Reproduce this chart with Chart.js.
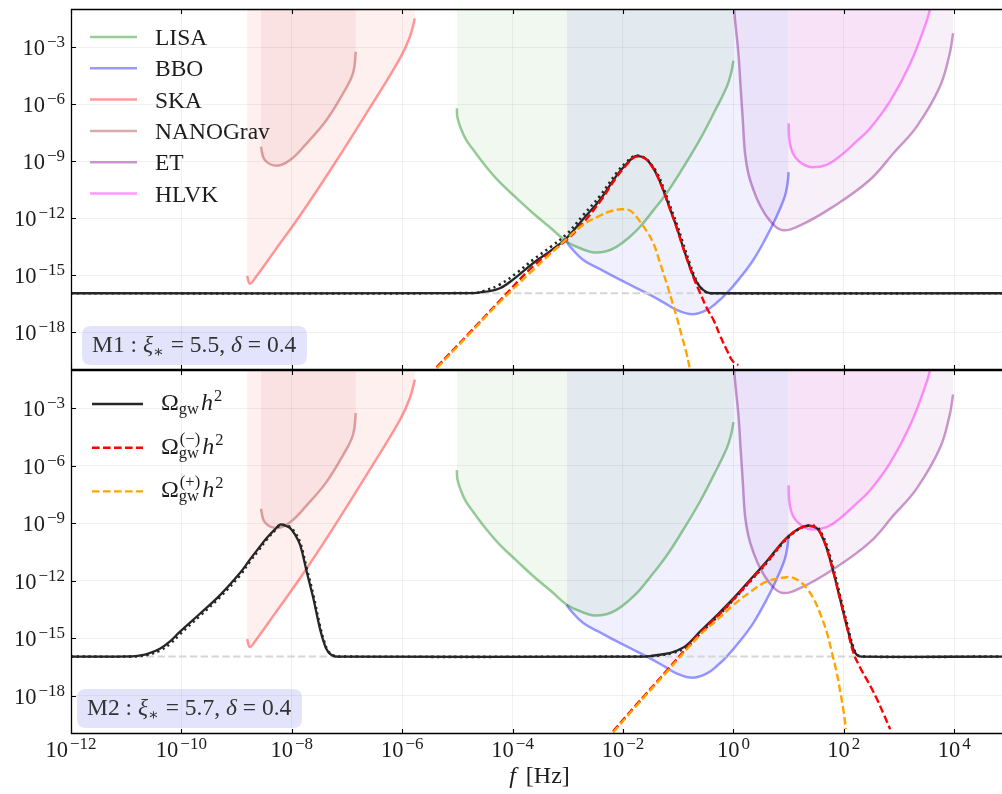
<!DOCTYPE html>
<html>
<head>
<meta charset="utf-8">
<title>GW spectra vs detector sensitivities</title>
<script src="https://cdn.jsdelivr.net/npm/chart.js@4.4.1/dist/chart.umd.min.js"></script>
<style>
  html, body { margin: 0; padding: 0; background: #fff; }
  #wrap { position: relative; width: 1002px; height: 794px; overflow: hidden; }
  #topPanel, #bottomPanel { position: absolute; left: 0; }
  #topPanel { top: 0; }
  #bottomPanel { top: 370px; }
</style>
</head>
<body>
<div id="wrap">
  <canvas id="topPanel" width="1002" height="372"></canvas>
  <canvas id="bottomPanel" width="1002" height="424"></canvas>
</div>
<script>
// ---- axes (powers of ten) ----
const xTickPowers = [-12, -10, -8, -6, -4, -2, 0, 2, 4];
const yTickPowers = [-18, -15, -12, -9, -6, -3];
const fRange = [-12, 4.866];
const omegaRange = [-20, -1];

// ---- detector sensitivity curves (log10 f [Hz], log10 Omega h^2) ----
const detectorNames = ['LISA', 'BBO', 'SKA', 'NANOGrav', 'ET', 'HLVK'];

const lisaLogF = [-5.01, -5.0, -4.95, -4.85, -4.71, -4.48, -4.23, -3.93, -3.63, -3.3, -3.02, -2.75, -2.54, -2.3, -2.11, -1.9, -1.69, -1.45, -1.21, -0.9, -0.61, -0.35, -0.12, -0.04, 0.0];
const lisaLogO = [-6.23, -6.7, -7.19, -7.85, -8.42, -9.3, -10.13, -10.95, -11.75, -12.55, -13.25, -13.62, -13.81, -13.75, -13.51, -13.05, -12.46, -11.6, -10.7, -9.3, -7.89, -6.45, -5.09, -4.35, -3.72];

const bboLogF = [-3.02, -2.96, -2.72, -2.4, -2.11, -1.8, -1.51, -1.25, -1.03, -0.74, -0.48, -0.3, -0.12, 0.12, 0.36, 0.58, 0.78, 0.93, 0.98, 1.0];
const bboLogO = [-13.25, -13.51, -14.21, -14.72, -15.17, -15.62, -16.05, -16.47, -16.84, -17.07, -16.84, -16.45, -15.96, -15.15, -14.21, -13.1, -11.93, -10.88, -10.2, -9.59];

const skaLogF = [-8.81, -8.76, -8.65, -8.3, -7.85, -7.25, -6.64, -6.04, -5.86, -5.77];
const skaLogO = [-15.05, -15.46, -15.1, -13.69, -11.87, -9.25, -6.45, -3.6, -2.46, -1.5];

const nanoLogF = [-8.56, -8.49, -8.27, -8.03, -7.73, -7.37, -7.07, -6.89, -6.84];
const nanoLogO = [-8.25, -8.95, -9.25, -8.95, -8.07, -6.84, -5.44, -4.38, -3.25];

const etLogF = [0.0, 0.03, 0.09, 0.13, 0.17, 0.21, 0.27, 0.36, 0.48, 0.65, 0.875, 1.2, 1.81, 2.47, 2.9, 3.32, 3.74, 3.92, 3.98];
const etLogO = [-0.5, -1.58, -3.33, -5.09, -6.84, -8.59, -9.65, -10.5, -11.32, -12.1, -12.63, -12.4, -11.4, -10.0, -8.59, -7.19, -5.09, -3.33, -2.28];

const hlvkLogF = [1.0, 1.01, 1.05, 1.12, 1.25, 1.42, 1.69, 1.93, 2.2, 2.47, 2.84, 3.2, 3.5, 3.58];
const hlvkLogO = [-7.02, -7.8, -8.4, -8.8, -9.15, -9.33, -9.2, -8.75, -8.05, -7.3, -5.85, -3.9, -1.65, -0.8];

// ---- flat background level (grey dashed) ----
const baseLogF = [-12, 4.866];
const baseLogO = [-15.96, -15.96];

// ---- model M1 (top panel) ----
const topTotLogF = [-12, -4.7, -4.5, -4.23, -3.93, -3.63, -3.3, -3.02, -2.72, -2.42, -2.11, -1.95, -1.81, -1.72, -1.6, -1.51, -1.39, -1.27, -1.15, -1.03, -0.91, -0.79, -0.7, -0.61, -0.5, -0.4, 4.866];
const topTotLogO = [-15.96, -15.95, -15.88, -15.7, -15.1, -14.38, -13.7, -13.05, -12.05, -11.05, -9.74, -9.2, -8.8, -8.74, -8.85, -9.12, -9.7, -10.53, -11.5, -12.46, -13.55, -14.56, -15.2, -15.6, -15.88, -15.96, -15.96];
const topDotLogO = [-15.96, -15.95, -15.82, -15.5, -14.9, -14.2, -13.5, -12.85, -11.85, -10.85, -9.6, -9.1, -8.75, -8.72, -8.85, -9.1, -9.6, -10.4, -11.35, -12.3, -13.35, -14.4, -15.1, -15.6, -15.9, -15.96, -15.96];

const topMinusLogF = [-5.375, -4.8, -4.23, -3.63, -3.02, -2.72, -2.42, -2.11, -1.95, -1.81, -1.72, -1.6, -1.51, -1.39, -1.27, -1.15, -1.03, -0.91, -0.79, -0.7, -0.61, -0.48, -0.36, -0.24, -0.12, -0.03, 0.03, 0.09];
const topMinusLogO = [-19.85, -18.1, -16.35, -14.55, -13.15, -12.25, -11.15, -9.82, -9.25, -8.83, -8.76, -8.87, -9.14, -9.72, -10.55, -11.52, -12.5, -13.58, -14.6, -15.3, -15.9, -16.75, -17.37, -18.2, -18.95, -19.47, -19.65, -19.74];

const topPlusLogF = [-5.375, -4.8, -4.23, -3.63, -3.02, -2.72, -2.42, -2.2, -2.0, -1.85, -1.69, -1.57, -1.45, -1.33, -1.21, -1.12, -1.03, -0.94, -0.85, -0.79];
const topPlusLogO = [-19.91, -18.16, -16.42, -14.74, -13.1, -12.35, -11.88, -11.62, -11.54, -11.65, -12.19, -12.7, -13.33, -14.35, -15.44, -16.3, -17.19, -18.15, -19.12, -19.91];

// ---- model M2 (bottom panel) ----
const botTotLogF = [-12, -10.9, -10.75, -10.6, -10.39, -10.2, -10.03, -9.66, -9.3, -8.94, -8.76, -8.6, -8.455, -8.3, -8.21, -8.12, -8.03, -7.94, -7.85, -7.73, -7.61, -7.49, -7.41, -7.34, -7.25, -7.15, -1.7, -1.51, -1.3, -1.09, -0.85, -0.61, -0.3, 0.0, 0.3, 0.6, 0.9, 1.05, 1.21, 1.36, 1.51, 1.6, 1.69, 1.81, 1.93, 2.05, 2.17, 2.24, 2.32, 4.866];
const botTotLogO = [-15.96, -15.95, -15.9, -15.8, -15.55, -15.15, -14.67, -13.71, -12.75, -11.6, -10.9, -10.3, -9.77, -9.3, -9.07, -9.12, -9.25, -9.6, -10.12, -11.53, -12.92, -14.5, -15.3, -15.72, -15.92, -15.96, -15.96, -15.93, -15.85, -15.72, -15.37, -14.67, -13.8, -12.92, -11.96, -11.0, -9.95, -9.55, -9.25, -9.13, -9.25, -9.65, -10.3, -11.53, -12.92, -14.32, -15.55, -15.88, -15.96, -15.96];
const botDotLogO = [-15.96, -15.96, -15.93, -15.86, -15.65, -15.28, -14.8, -13.82, -12.85, -11.72, -11.0, -10.4, -9.85, -9.35, -9.1, -9.1, -9.2, -9.5, -10.0, -11.35, -12.75, -14.35, -15.2, -15.68, -15.9, -15.96, -15.96, -15.94, -15.88, -15.76, -15.45, -14.78, -13.9, -13.0, -12.05, -11.08, -10.02, -9.6, -9.27, -9.12, -9.2, -9.55, -10.15, -11.35, -12.75, -14.15, -15.45, -15.85, -15.96, -15.96];

const botMinusLogF = [-2.18, -1.81, -1.21, -0.61, -0.3, 0.0, 0.3, 0.6, 0.9, 1.05, 1.21, 1.36, 1.51, 1.6, 1.69, 1.81, 1.93, 2.05, 2.17, 2.29, 2.41, 2.5, 2.6, 2.72, 2.84];
const botMinusLogO = [-19.86, -18.64, -16.7, -14.75, -13.88, -12.98, -12.02, -11.05, -9.98, -9.56, -9.25, -9.13, -9.25, -9.65, -10.3, -11.53, -12.92, -14.32, -15.72, -16.5, -17.12, -17.6, -18.17, -18.95, -19.75];

const botPlusLogF = [-2.18, -1.81, -1.21, -0.61, -0.3, 0.0, 0.3, 0.6, 0.9, 1.05, 1.21, 1.33, 1.45, 1.57, 1.69, 1.78, 1.87, 1.93, 1.99, 2.04];
const botPlusLogO = [-19.92, -18.7, -16.77, -14.85, -14.05, -13.27, -12.6, -12.05, -11.84, -11.82, -12.05, -12.4, -12.92, -13.7, -14.67, -15.7, -16.77, -17.7, -18.7, -19.75];

// ---- panel annotations ----
const modelNames = ['M1', 'M2'];
const xiValues = ['5.5', '5.7'];
const deltaValues = ['0.4', '0.4'];
const omegaSupers = ['', '(\u2212)', '(+)'];

// ------------------------------------------------------------------
const SERIF = '"Liberation Serif", "DejaVu Serif", serif';
const TEXT = '#1c1c1c';
const BLACK = '#262626';
const font = (size, italic) => (italic ? 'italic ' : '') + size + 'px ' + SERIF;
const toPoints = (lf, lo) => lf.map((v, i) => ({ x: Math.pow(10, v), y: Math.pow(10, lo[i]) }));

// detector line / fill colours (rgb of the matplotlib named colours)
const detectorRGB = ['0,128,0', '0,0,255', '255,0,0', '165,42,42', '128,0,128', '255,0,255'];
const detectorCurves = [
  [lisaLogF, lisaLogO], [bboLogF, bboLogO], [skaLogF, skaLogO],
  [nanoLogF, nanoLogO], [etLogF, etLogO], [hlvkLogF, hlvkLogO]
];

function detectorDatasets() {
  return detectorCurves.map((c, i) => ({
    label: detectorNames[i],
    data: toPoints(c[0], c[1]),
    borderColor: 'rgba(' + detectorRGB[i] + ',0.4)',
    backgroundColor: 'rgba(' + detectorRGB[i] + ',' + (i === 3 ? 0.07 : 0.06) + ')',
    borderWidth: 2.5,
    fill: 'end',
    order: 20 + i
  }));
}

function spectrumDatasets(tot, dot, minus, plus) {
  return [
    { label: '\u03A9gw h2', data: toPoints(tot[0], tot[1]), borderColor: BLACK, borderWidth: 2.3, order: 4 },
    { label: 'dotted', data: toPoints(tot[0], dot), borderColor: BLACK, borderWidth: 2.6, borderDash: [2.2, 3.6], order: 3 },
    { label: '\u03A9gw(\u2212) h2', data: toPoints(minus[0], minus[1]), borderColor: '#ff0000', borderWidth: 2.4, borderDash: [7.6, 3.4], order: 2 },
    { label: '\u03A9gw(+) h2', data: toPoints(plus[0], plus[1]), borderColor: '#ffa500', borderWidth: 2.4, borderDash: [7.6, 3.4], order: 1 },
    { label: 'background', data: toPoints(baseLogF, baseLogO), borderColor: '#d6d6d6', borderWidth: 2, borderDash: [7.4, 3.4], order: 5 }
  ];
}

// draws a sequence of text pieces, returns end x
function drawRun(ctx, x, y, pieces) {
  pieces.forEach(p => {
    ctx.font = font(p.size, p.italic);
    ctx.fillText(p.text, x, y + (p.dy || 0));
    x += ctx.measureText(p.text).width + (p.gap || 0);
  });
  return x;
}

function drawPower(ctx, p, x, y, align) {
  const exp = (p < 0 ? '\u2212' : '') + Math.abs(p);
  ctx.font = font(22.5); const wb = ctx.measureText('10').width;
  ctx.font = font(17); const we = ctx.measureText(exp).width;
  const total = wb + 2 + we;
  const x0 = align === 'right' ? x - total : x - total / 2;
  ctx.font = font(22.5); ctx.fillText('10', x0, y);
  ctx.font = font(17); ctx.fillText(exp, x0 + wb + 2, y - 8);
}

function drawOmega(ctx, x, y, sup) {
  ctx.font = font(24); ctx.fillText('\u03A9', x, y);
  x += ctx.measureText('\u03A9').width;
  ctx.font = font(16.5); const wg = ctx.measureText('gw').width;
  ctx.fillText('gw', x, y + 4);
  let w = wg;
  if (sup) { ctx.fillText(sup, x + 1, y - 10); w = Math.max(wg, ctx.measureText(sup).width + 1); }
  x += w + 2;
  ctx.font = font(24, true); ctx.fillText('h', x, y);
  x += ctx.measureText('h').width + 1;
  ctx.font = font(16.5); ctx.fillText('2', x, y - 9);
}

function roundBox(ctx, x, y, w, h, r) {
  ctx.beginPath();
  ctx.moveTo(x + r, y); ctx.lineTo(x + w - r, y); ctx.quadraticCurveTo(x + w, y, x + w, y + r);
  ctx.lineTo(x + w, y + h - r); ctx.quadraticCurveTo(x + w, y + h, x + w - r, y + h);
  ctx.lineTo(x + r, y + h); ctx.quadraticCurveTo(x, y + h, x, y + h - r);
  ctx.lineTo(x, y + r); ctx.quadraticCurveTo(x, y, x + r, y);
  ctx.closePath();
}

const panelDecor = {
  id: 'panelDecor',
  afterDraw(chart, args, o) {
    const ctx = chart.ctx, a = chart.chartArea, xs = chart.scales.x, ys = chart.scales.y;
    ctx.save();
    // frame
    ctx.strokeStyle = '#000'; ctx.lineWidth = 1.3;
    ctx.beginPath();
    ctx.moveTo(a.right + 2, a.top + 0.5); ctx.lineTo(a.left + 0.5, a.top + 0.5);
    ctx.lineTo(a.left + 0.5, a.bottom - 0.5); ctx.lineTo(a.right + 2, a.bottom - 0.5);
    ctx.stroke();
    // inward tick marks
    ctx.lineWidth = 1.1;
    ctx.beginPath();
    xTickPowers.forEach(p => {
      const x = Math.round(xs.getPixelForValue(Math.pow(10, p))) + 0.5;
      ctx.moveTo(x, a.top); ctx.lineTo(x, a.top + 5);
      ctx.moveTo(x, a.bottom); ctx.lineTo(x, a.bottom - 5);
    });
    yTickPowers.forEach(p => {
      const y = Math.round(ys.getPixelForValue(Math.pow(10, p))) + 0.5;
      ctx.moveTo(a.left, y); ctx.lineTo(a.left + 5, y);
    });
    ctx.stroke();
    // tick labels
    ctx.fillStyle = TEXT; ctx.textBaseline = 'alphabetic'; ctx.textAlign = 'left';
    yTickPowers.forEach(p => drawPower(ctx, p, a.left - 6, ys.getPixelForValue(Math.pow(10, p)) + 8, 'right'));
    if (o.xLabels) {
      xTickPowers.forEach(p => drawPower(ctx, p, xs.getPixelForValue(Math.pow(10, p)), a.bottom + 23, 'center'));
      ctx.font = font(24, true); const wf = ctx.measureText('f').width;
      ctx.font = font(24); const wh = ctx.measureText(' [Hz]').width;
      const x0 = (a.left + a.right) / 2 - (wf + 4 + wh) / 2 + 3;
      drawRun(ctx, x0, a.bottom + 49, [{ text: 'f', size: 24, italic: true, gap: 4 }, { text: ' [Hz]', size: 24 }]);
    }
    // legend
    if (o.legend === 'detectors') {
      chart.data.datasets.slice(0, detectorNames.length).forEach((d, i) => {
        const y = a.top + 28 + i * 31.3;
        ctx.strokeStyle = d.borderColor; ctx.lineWidth = 2.5; ctx.setLineDash([]);
        ctx.beginPath(); ctx.moveTo(90, y); ctx.lineTo(137, y); ctx.stroke();
        ctx.fillStyle = TEXT; ctx.font = font(23.5);
        ctx.fillText(d.label, 155, y + 8);
      });
    } else if (o.legend === 'omega') {
      const sets = chart.data.datasets.filter(d => d.label.indexOf('\u03A9') === 0);
      sets.forEach((d, i) => {
        const y = a.top + 34 + i * 43.7;
        ctx.strokeStyle = d.borderColor; ctx.lineWidth = d.borderWidth;
        ctx.setLineDash(d.borderDash || []);
        ctx.beginPath(); ctx.moveTo(92, y); ctx.lineTo(143, y); ctx.stroke();
        ctx.setLineDash([]);
        ctx.fillStyle = TEXT;
        drawOmega(ctx, 161, y + 6, omegaSupers[i]);
      });
    }
    // model label box
    const k = o.model;
    const pieces = [
      { text: modelNames[k] + ' : ', size: 23.5 },
      { text: '\u03BE', size: 23.5, italic: true },
      { text: '\u2217', size: 16, dy: 5, gap: 1 },
      { text: ' = ' + xiValues[k] + ', ', size: 23.5 },
      { text: '\u03B4', size: 23.5, italic: true },
      { text: ' = ' + deltaValues[k], size: 23.5 }
    ];
    const bx = a.left + o.boxDx, bb = a.bottom - o.boxDy;
    ctx.fillStyle = 'rgba(0,0,230,0.11)';
    roundBox(ctx, bx, bb - 39, 225, 39, 9);
    ctx.fill();
    ctx.fillStyle = '#333';
    drawRun(ctx, bx + 10, bb - 13, pieces);
    ctx.restore();
  }
};

function makePanel(id, datasets, opts) {
  return new Chart(document.getElementById(id), {
    type: 'line',
    data: { datasets },
    options: {
      responsive: false,
      animation: false,
      layout: { padding: { top: opts.padTop, left: 0, right: 0, bottom: 0 } },
      elements: { point: { radius: 0 }, line: { tension: 0.4, borderCapStyle: 'butt' } },
      plugins: {
        legend: { display: false },
        tooltip: { enabled: false },
        panelDecor: opts.decor
      },
      scales: {
        x: {
          type: 'logarithmic',
          min: Math.pow(10, fRange[0]), max: Math.pow(10, fRange[1]),
          afterBuildTicks: s => { s.ticks = xTickPowers.map(p => ({ value: Math.pow(10, p) })); },
          ticks: { display: false },
          grid: { color: 'rgba(0,0,0,0.055)', lineWidth: 1, drawTicks: false },
          border: { display: false },
          afterFit: s => { s.height = opts.xHeight; }
        },
        y: {
          type: 'logarithmic',
          min: Math.pow(10, omegaRange[0]), max: Math.pow(10, omegaRange[1]),
          afterBuildTicks: s => { s.ticks = yTickPowers.map(p => ({ value: Math.pow(10, p) })); },
          ticks: { display: false },
          grid: { color: 'rgba(0,0,0,0.055)', lineWidth: 1, drawTicks: false },
          border: { display: false },
          afterFit: s => { s.width = 71; }
        }
      }
    },
    plugins: [panelDecor]
  });
}

makePanel('topPanel',
  detectorDatasets().concat(spectrumDatasets([topTotLogF, topTotLogO], topDotLogO, [topMinusLogF, topMinusLogO], [topPlusLogF, topPlusLogO])),
  { padTop: 9, xHeight: 2, decor: { legend: 'detectors', model: 0, boxDx: 11, boxDy: 5, xLabels: false } });

makePanel('bottomPanel',
  detectorDatasets().concat(spectrumDatasets([botTotLogF, botTotLogO], botDotLogO, [botMinusLogF, botMinusLogO], [botPlusLogF, botPlusLogO])),
  { padTop: 0, xHeight: 60, decor: { legend: 'omega', model: 1, boxDx: 6, boxDy: 6, xLabels: true } });
</script>
</body>
</html>
